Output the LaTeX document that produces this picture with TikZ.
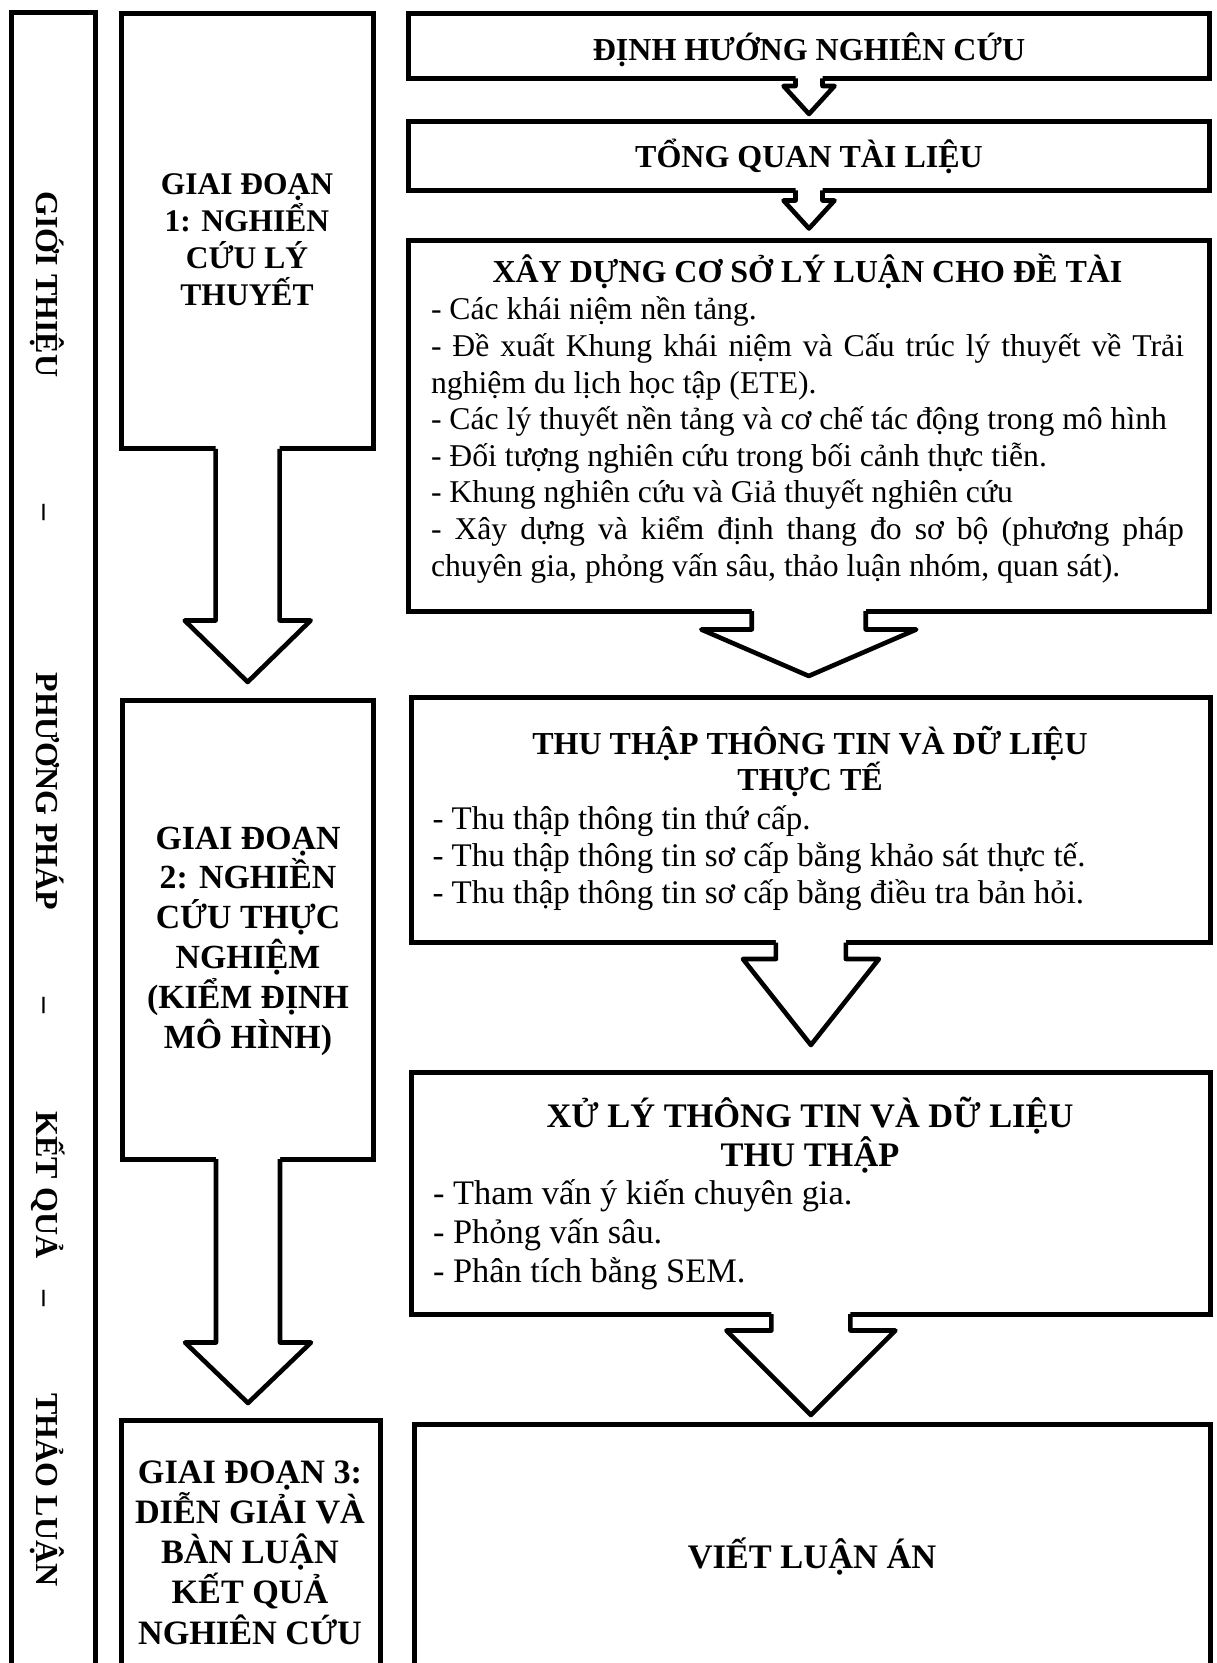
\documentclass[tikz,border=0pt]{standalone}
\usepackage{fontspec}
\setmainfont{Liberation Serif}
\usetikzlibrary{calc,fit}

% multi-line text blocks whose reference point is the first baseline
\newcommand{\ctrlines}[2]{\begin{minipage}[t]{#1}\centering #2\end{minipage}}
\newcommand{\leftlines}[2]{\begin{minipage}[t]{#1}\raggedright #2\end{minipage}}
\newcommand{\fullline}[1]{\makebox[\linewidth][s]{#1}}

\tikzset{
  frame/.style={draw=black, line width=2.5pt, inner sep=0pt, outer sep=0pt, line join=miter},
  blk/.style={draw=black, line width=2.3pt, line join=round},
  hd/.style={font=\bfseries\fontsize{16pt}{18.3pt}\selectfont, inner sep=0pt, outer sep=0pt, anchor=base},
  hdbig/.style={font=\bfseries\fontsize{17.2pt}{19.5pt}\selectfont, inner sep=0pt, outer sep=0pt, anchor=base},
  body/.style={font=\fontsize{15.85pt}{18.3pt}\selectfont, inner sep=0pt, outer sep=0pt, anchor=base west},
  sidelabel/.style={font=\bfseries\fontsize{16pt}{18pt}\selectfont, inner sep=0pt, outer sep=0pt, anchor=base, rotate=-90},
}

% hollow block arrow hanging from the bottom of #1 and pointing at the top of #2
% #3 shaft half width, #4 shoulder drop, #5 head half width, #6 gap before #2
\newcommand{\blockarrow}[6]{%
  \fill[white] ($(#1.south)+(-#3,-3)$) -- ($(#1.south)+(-#3,#4)$) -- ($(#1.south)+(-#5,#4)$)
    -- ($(#1.south |- #2.north)+(0,-#6)$) -- ($(#1.south)+(#5,#4)$) -- ($(#1.south)+(#3,#4)$)
    -- ($(#1.south)+(#3,-3)$) -- cycle;
  \draw[blk] ($(#1.south)+(-#3,0)$) -- ($(#1.south)+(-#3,#4)$) -- ($(#1.south)+(-#5,#4)$)
    -- ($(#1.south |- #2.north)+(0,-#6)$) -- ($(#1.south)+(#5,#4)$) -- ($(#1.south)+(#3,#4)$)
    -- ($(#1.south)+(#3,0)$);
}

\begin{document}
\begin{tikzpicture}[x=0.5pt,y=-0.5pt]
\useasboundingbox (0,0) rectangle (1216,1663);
\fill[white] (0,0) rectangle (1216,1663);
\clip (0,0) rectangle (1216,1663);

% frames
\node[frame, fit={(11.2,12.5) (95,1700)}] (side) {};
\node[frame, fit={(121.8,13.3) (373.5,449)}] (p1) {};
\node[frame, fit={(122.5,700.5) (373.5,1159)}] (p2) {};
\node[frame, fit={(121.8,1420) (380.8,1700)}] (p3) {};
\node[frame, fit={(408.5,13.3) (1209.5,78.3)}] (b1) {};
\node[frame, fit={(408.5,121.5) (1209.5,190.5)}] (b2) {};
\node[frame, fit={(408.5,241) (1209,611)}] (b3) {};
\node[frame, fit={(411.8,697.5) (1210,942.5)}] (b4) {};
\node[frame, fit={(411.8,1072.5) (1210,1314)}] (b5) {};
\node[frame, fit={(414,1424) (1210,1700)}] (b6) {};

% arrows
\blockarrow{b1}{b2}{13.5}{7.7}{25.5}{7.5}
\blockarrow{b2}{b3}{13.5}{10}{25.5}{12.5}
\blockarrow{b3}{b4}{57}{18.5}{107.5}{21.5}
\blockarrow{b4}{b5}{35}{16.5}{68}{27.5}
\blockarrow{b5}{b6}{39.5}{16.5}{84.5}{9}
\blockarrow{p1}{p2}{32}{171.5}{63}{18.5}
\blockarrow{p2}{p3}{32}{183.5}{63}{17}

% vertical band
\node[sidelabel] (s1) at (36,284.5) {GIỚI THIỆU};
\node[sidelabel] (d1) at (36,512) {–};
\node[sidelabel] (s2) at (36,791.5) {PHƯƠNG PHÁP};
\node[sidelabel] (d2) at (36,1005) {–};
\node[sidelabel] (s3) at (36,1185) {KẾT QUẢ};
\node[sidelabel] (d3) at (36,1298) {–};
\node[sidelabel] (s4) at (36,1490) {THẢO LUẬN};

% phases
\node[hd, font=\bfseries\fontsize{15.75pt}{18.5pt}\selectfont] (tp1) at (247,194.5)
  {\ctrlines{120pt}{GIAI ĐOẠN\\1: NGHIỂN\\CỨU LÝ\\THUYẾT}};
\node[hd, font=\bfseries\fontsize{16.9pt}{19.9pt}\selectfont] (tp2) at (248,849)
  {\ctrlines{120pt}{GIAI ĐOẠN\\2: NGHIỀN\\CỨU THỰC\\NGHIỆM\\(KIỂM ĐỊNH\\MÔ HÌNH)}};
\node[hd, font=\bfseries\fontsize{17.1pt}{20.15pt}\selectfont] (tp3) at (250,1483)
  {\ctrlines{125pt}{GIAI ĐOẠN 3:\\DIỄN GIẢI VÀ\\BÀN LUẬN\\KẾT QUẢ\\NGHIÊN CỨU}};

% right column
\node[hd] (tb1) at (809,61) {ĐỊNH HƯỚNG NGHIÊN CỨU};
\node[hd] (tb2) at (809,168) {TỔNG QUAN TÀI LIỆU};
\node[hd] (tb3) at (807.5,283) {XÂY DỰNG CƠ SỞ LÝ LUẬN CHO ĐỀ TÀI};
\node[body] (bb3) at (431,320) {\leftlines{376.5pt}{%
  - Các khái niệm nền tảng.\\
  \fullline{- Đề xuất Khung khái niệm và Cấu trúc lý thuyết về Trải}\\
  nghiệm du lịch học tập (ETE).\\
  - Các lý thuyết nền tảng và cơ chế tác động trong mô hình\\
  - Đối tượng nghiên cứu trong bối cảnh thực tiễn.\\
  - Khung nghiên cứu và Giả thuyết nghiên cứu\\
  \fullline{- Xây dựng và kiểm định thang đo sơ bộ (phương pháp}\\
  chuyên gia, phỏng vấn sâu, thảo luận nhóm, quan sát).}};

\node[hd] (tb4) at (810,754) {\ctrlines{370pt}{THU THẬP THÔNG TIN VÀ DỮ LIỆU\\THỰC TẾ}};
\node[body, font=\fontsize{16.5pt}{18.4pt}\selectfont] (bb4) at (432.5,829.5) {\leftlines{380pt}{%
  - Thu thập thông tin thứ cấp.\\
  - Thu thập thông tin sơ cấp bằng khảo sát thực tế.\\
  - Thu thập thông tin sơ cấp bằng điều tra bản hỏi.}};

\node[hdbig] (tb5) at (810,1127.5) {\ctrlines{370pt}{XỬ LÝ THÔNG TIN VÀ DỮ LIỆU\\THU THẬP}};
\node[body, font=\fontsize{17.2pt}{19.5pt}\selectfont] (bb5) at (433,1204) {\leftlines{380pt}{%
  - Tham vấn ý kiến chuyên gia.\\
  - Phỏng vấn sâu.\\
  - Phân tích bằng SEM.}};

\node[hdbig] (tb6) at (812,1568) {VIẾT LUẬN ÁN};
\end{tikzpicture}
\end{document}
